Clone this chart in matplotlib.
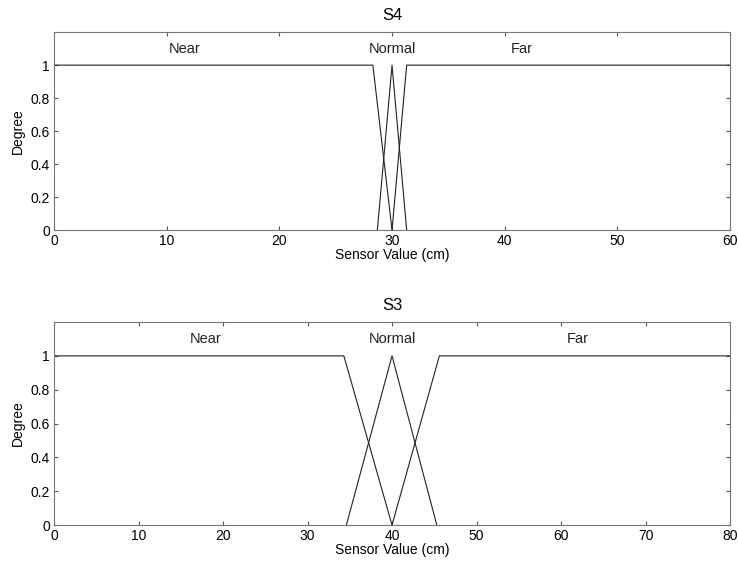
import matplotlib.pyplot as plt

plt.rcParams['font.family'] = ['Liberation Sans', 'DejaVu Sans']
plt.rcParams['font.size'] = 10

# S4 membership functions (sensor value in cm, degree)
s4_near_x = [0, 28.3, 30.0]
s4_near_y = [1, 1, 0]
s4_normal_x = [28.7, 30.0, 31.3]
s4_normal_y = [0, 1, 0]
s4_far_x = [30.0, 31.3, 60]
s4_far_y = [0, 1, 1]

# S3 membership functions
s3_near_x = [0, 34.3, 40.0]
s3_near_y = [1, 1, 0]
s3_normal_x = [34.6, 40.0, 45.3]
s3_normal_y = [0, 1, 0]
s3_far_x = [40.0, 45.6, 80]
s3_far_y = [0, 1, 1]

labels = ['Near', 'Normal', 'Far']
s4_label_x = [11.6, 30.0, 41.5]
s3_label_x = [18.0, 40.0, 62.0]

fig = plt.figure(figsize=(7.38, 5.64), dpi=100)
ax1 = fig.add_axes([0.0732, 0.592, 0.916, 0.351])
ax2 = fig.add_axes([0.0732, 0.069, 0.916, 0.360])

panels = [
    (ax1, 'S4', 60, [(s4_near_x, s4_near_y), (s4_normal_x, s4_normal_y), (s4_far_x, s4_far_y)], s4_label_x),
    (ax2, 'S3', 80, [(s3_near_x, s3_near_y), (s3_normal_x, s3_normal_y), (s3_far_x, s3_far_y)], s3_label_x),
]

for ax, title, xmax, curves, lab_x in panels:
    for xs, ys in curves:
        ax.plot(xs, ys, color='#222222', linewidth=0.8)
    for name, lx in zip(labels, lab_x):
        ax.text(lx, 1.1, name, ha='center', va='center', color='#222222', fontsize=10.5)
    ax.set_xlim(0, xmax)
    ax.set_ylim(0, 1.2)
    ax.set_xticks(range(0, xmax + 1, 10))
    ax.set_yticks([0, 0.2, 0.4, 0.6, 0.8, 1])
    ax.set_yticklabels(['0', '0.2', '0.4', '0.6', '0.8', '1'])
    ax.tick_params(direction='in', top=True, right=True, length=3, color='#555555', pad=3)
    for s in ax.spines.values():
        s.set_color('#777777')
        s.set_linewidth(0.8)
    ax.set_title(title, pad=9)
    ax.set_xlabel('Sensor Value (cm)', labelpad=0)
    ax.set_ylabel('Degree', labelpad=4)

plt.savefig('out.png')
